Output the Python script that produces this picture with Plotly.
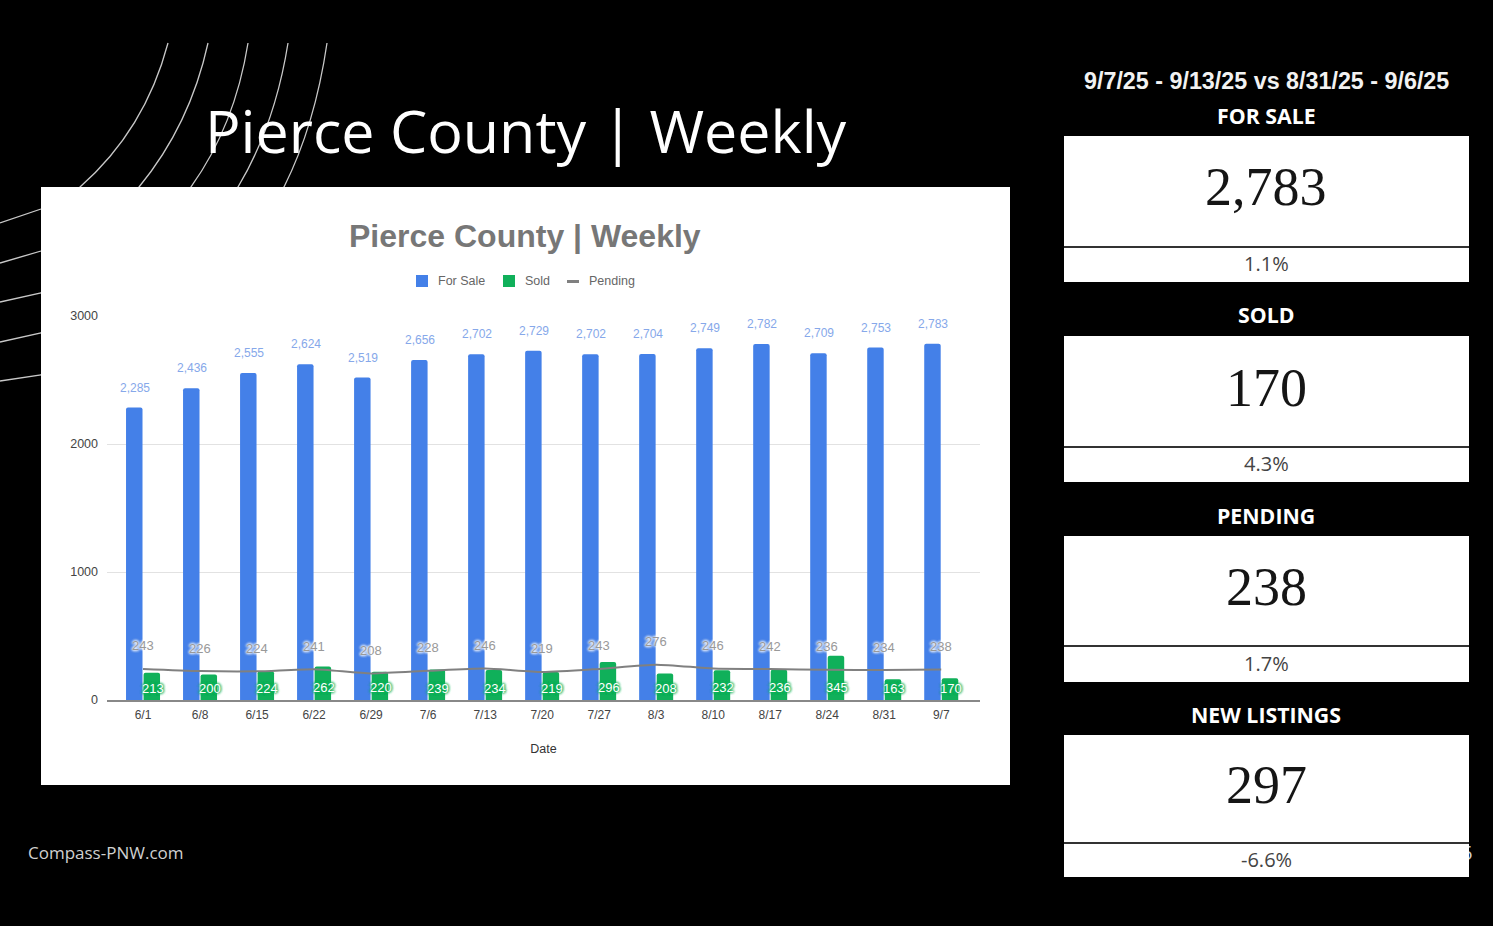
import plotly.graph_objects as go

W = 1493
H = 926

dates = ['6/1', '6/8', '6/15', '6/22', '6/29', '7/6', '7/13', '7/20', '7/27', '8/3', '8/10', '8/17', '8/24', '8/31', '9/7']
for_sale = [2285, 2436, 2555, 2624, 2519, 2656, 2702, 2729, 2702, 2704, 2749, 2782, 2709, 2753, 2783]
sold = [213, 200, 224, 262, 220, 239, 234, 219, 296, 208, 232, 236, 345, 163, 170]
pending = [243, 226, 224, 241, 208, 228, 246, 219, 243, 276, 246, 242, 236, 234, 238]

card_titles = ['FOR SALE', 'SOLD', 'PENDING', 'NEW LISTINGS']
card_values = ['2,783', '170', '238', '297']
card_changes = ['1.1%', '4.3%', '1.7%', '-6.6%']

BLUE = '#4480e8'
GREEN = '#10b05a'
GREY = '#808080'


def px(x):
    return x / W


def py(y):
    return 1 - y / H


def box(x0, y0, x1, y1, layer='below', color='white', line=None):
    return dict(type='rect', xref='paper', yref='paper', x0=px(x0), x1=px(x1), y0=py(y0), y1=py(y1),
                fillcolor=color, line=line or dict(width=0), layer=layer)


def label(x, y, text, size, color, family='Open Sans', weight='normal', xanchor='center'):
    return dict(xref='paper', yref='paper', x=px(x), y=py(y), text=text, showarrow=False, xanchor=xanchor,
                yanchor='middle', font=dict(size=size, color=color, family=family, weight=weight))


fig = go.Figure()
fig.add_trace(go.Bar(x=dates, y=for_sale, name='For Sale', marker=dict(color=BLUE, line_width=0)))
fig.add_trace(go.Bar(x=dates, y=sold, name='Sold', marker=dict(color=GREEN, line_width=0)))
fig.add_trace(go.Scatter(x=dates, y=pending, name='Pending', mode='lines',
                         line=dict(color=GREY, width=2, shape='spline', smoothing=0.6)))
# cut off page number behind the last card
fig.add_trace(go.Scatter(x=[1467], y=[855], mode='text', text=['5'], xaxis='x2', yaxis='y2', showlegend=False,
                         textfont=dict(size=20, color='#cccccc', family='Open Sans')))

annotations = []
for i, d in enumerate(dates):
    annotations.append(dict(x=d, y=for_sale[i], text=f'{for_sale[i]:,}', showarrow=False, xshift=-8, yshift=20,
                            font=dict(size=12, color='#86a8ea', family='Liberation Sans')))
    annotations.append(dict(x=d, y=sold[i], text=str(sold[i]), showarrow=False, xshift=10,
                            yshift=12 - sold[i] * 384 / 3000,
                            font=dict(size=13, color='white', family='Liberation Sans',
                                      shadow=f'0 0 3px {GREEN}, 0 0 3px {GREEN}, 0 0 3px {GREEN}, 0 0 3px {GREEN}')))
    annotations.append(dict(x=d, y=pending[i], text=str(pending[i]), showarrow=False, yshift=23,
                            font=dict(size=13, color='#999999', family='Liberation Sans',
                                      shadow='0 0 3px white, 0 0 3px white, 0 0 3px white, 0 0 3px white')))

annotations.append(label(203, 130, 'Pierce County | Weekly', 59.2, 'white', xanchor='left'))
annotations.append(label(525, 236, 'Pierce County | Weekly', 32, '#777777', 'Liberation Sans', 'bold'))
annotations.append(label(1266, 81, '9/7/25 - 9/13/25 vs 8/31/25 - 9/6/25', 23.3, '#f2f2f2', 'Liberation Sans', 'bold'))
annotations.append(label(26, 852, 'Compass-PNW.com', 17, '#d0d0d0', xanchor='left'))

shapes = [box(41, 187, 1010, 785)]

# legend drawn by hand, the plotly line swatch is too long
shapes.append(box(416, 275, 428, 287, color=BLUE))
shapes.append(box(503, 275, 515, 287, color=GREEN))
shapes.append(box(567, 280, 579, 283, color=GREY))
annotations.append(label(436, 281, 'For Sale', 12.5, '#666666', 'Liberation Sans', xanchor='left'))
annotations.append(label(523, 281, 'Sold', 12.5, '#666666', 'Liberation Sans', xanchor='left'))
annotations.append(label(587, 281, 'Pending', 12.5, '#666666', 'Liberation Sans', xanchor='left'))

# decorative arcs in the top left corner, the white panel hides their middle
arcs = [
    ((168, 43), (145, 130), (80, 187), (41, 209), (0, 223)),
    ((208, 43), (190, 125), (139, 187), (41, 251), (0, 263)),
    ((248, 43), (235, 125), (191, 187), (41, 293), (0, 302)),
    ((288, 43), (275, 125), (238, 187), (41, 333), (0, 342)),
    ((327, 43), (315, 125), (284, 187), (41, 375), (0, 381)),
]
for a in arcs:
    p = [f'{px(x):.5f},{py(y):.5f}' for x, y in a]
    shapes.insert(0, dict(type='path', xref='paper', yref='paper', layer='below',
                          path=f'M {p[0]} Q {p[1]} {p[2]} L {p[3]} L {p[4]}', line=dict(color='#c8c8c8', width=1.3)))

# the four cards on the right
card_tops = [136, 336, 536, 735]
card_mids = [247, 447, 646, 843]
card_ends = [282, 482, 682, 877]
title_ys = [115, 315, 515, 714]
for i in range(4):
    shapes.append(box(1064, card_tops[i], 1469, card_ends[i], layer='above'))
    shapes.append(box(1064, card_mids[i] - 1, 1469, card_mids[i] + 1, layer='above', color='#333333'))
    annotations.append(label(1266, title_ys[i], card_titles[i], 21.3, 'white', weight='bold'))
    annotations.append(label(1266, (card_tops[i] + card_mids[i]) / 2 - 4, card_values[i], 54, '#151515', 'Liberation Serif'))
    annotations.append(label(1266, (card_mids[i] + card_ends[i]) / 2 - 1, card_changes[i], 20, '#444444'))

fig.update_layout(
    width=W, height=H, margin=dict(l=0, r=0, t=0, b=0, autoexpand=False),
    paper_bgcolor='black', plot_bgcolor='rgba(0,0,0,0)', showlegend=False,
    barmode='group', bargap=0.385, bargroupgap=0.06, barcornerradius=2,
    shapes=shapes, annotations=annotations,
    xaxis=dict(domain=[px(107), px(980)], type='category', range=[-0.632, 14.68],
               showgrid=False, showline=True, linecolor='#888888', linewidth=2, ticks='', ticklabelstandoff=3,
               tickfont=dict(size=12, color='#444444', family='Liberation Sans'),
               title=dict(text='Date', standoff=23, font=dict(size=12.5, color='#333333', family='Liberation Sans'))),
    yaxis=dict(domain=[py(700), py(316)], range=[0, 3000], tickvals=[0, 1000, 2000, 3000],
               gridcolor='#e2e2e2', gridwidth=1, zeroline=False, ticks='', ticklabelstandoff=8,
               tickfont=dict(size=12.5, color='#444444', family='Liberation Sans')),
    xaxis2=dict(domain=[0, 1], range=[0, W], visible=False, anchor='y2'),
    yaxis2=dict(domain=[0, 1], range=[H, 0], visible=False, anchor='x2'),
)

fig.write_html('out.html', config=dict(displayModeBar=False),
               post_script="document.body.style.margin='0';document.body.style.background='black';")
